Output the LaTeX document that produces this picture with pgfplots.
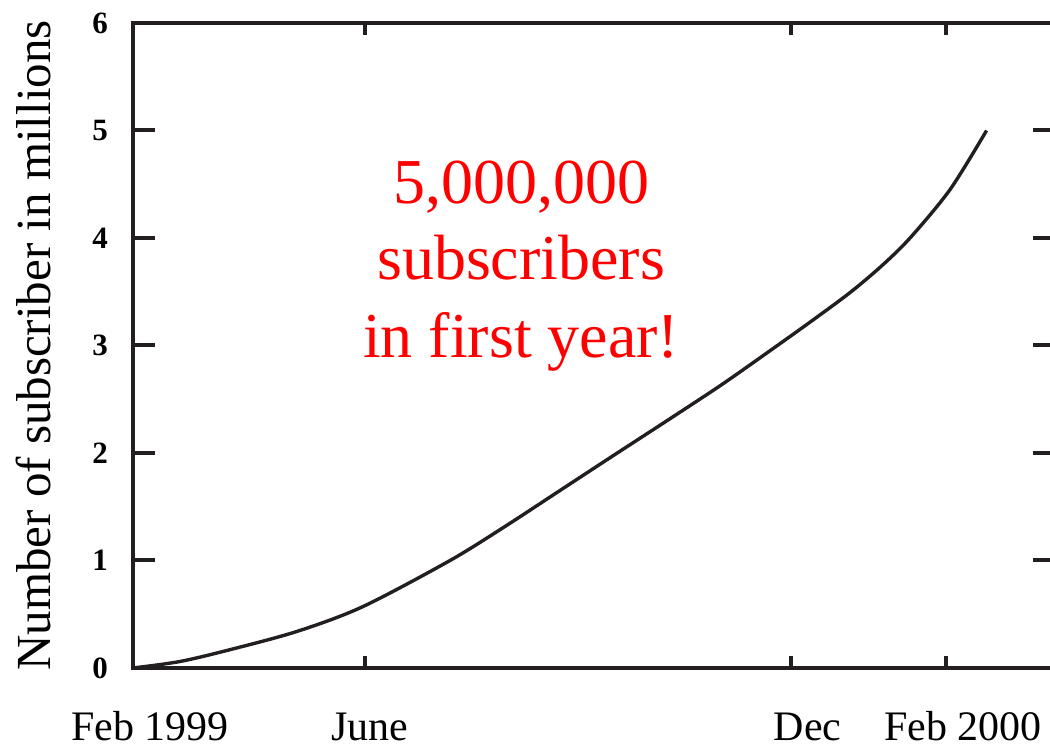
\documentclass[border=0pt]{standalone}
\usepackage{pgfplots}
\pgfplotsset{compat=1.18}
\usepackage{fontspec}
\setmainfont{Liberation Serif}
\definecolor{ink}{RGB}{35,31,32}

\begin{document}
\begin{tikzpicture}
  \begin{axis}[
      at={(0,0)}, anchor=south west,
      scale only axis,
      width=461pt, height=322.5pt,
      xmin=0, xmax=13.61,
      ymin=0, ymax=6,
      /pgf/number format/assume math mode=true,
      axis line style={ink, line width=2pt},
      tick style={ink, line width=2pt},
      tick align=inside,
      xtick={0,3.42,9.71,12},
      xticklabels={Feb 1999,\hspace*{-12pt}June,Dec,Feb 2000},
      ytick={0,1,2,3,4,5,6},
      xtick style={/pgfplots/major tick length=6pt},
      ytick style={/pgfplots/major tick length=11pt},
      xticklabel style={font=\fontsize{21}{24}\selectfont, anchor=base,
        yshift=-36.5pt, xshift=8.5pt},
      yticklabel style={font=\fontsize{15.5}{18}\selectfont\bfseries, xshift=-9pt},
      ylabel={Number of subscriber in millions},
      ylabel style={font=\fontsize{24.5}{28}\selectfont,
        at={(axis description cs:-0.089,0.5)}, anchor=base},
      clip=false,
    ]
    \addplot[ink, line width=1.7pt, smooth, tension=0.5] coordinates {
      (0,0) (0.69,0.06) (1.43,0.17) (2.42,0.34) (3.39,0.57) (4.68,1.00)
      (5.50,1.32) (6.30,1.65) (7.10,1.98) (7.93,2.32) (8.70,2.64)
      (9.40,2.95) (10.00,3.22) (10.58,3.49) (11.05,3.74) (11.47,4.00)
      (12.06,4.45) (12.60,5.00)
    };
    \node[red, anchor=base, font=\fontsize{32}{36}\selectfont] at (axis cs:5.73,4.32) {5,000,000};
    \node[red, anchor=base, font=\fontsize{32}{36}\selectfont] at (axis cs:5.73,3.61) {subscribers};
    \node[red, anchor=base, font=\fontsize{32}{36}\selectfont] at (axis cs:5.73,2.89) {in first year!};
  \end{axis}
  \pgfresetboundingbox
  \useasboundingbox (-66.5pt,-39.5pt) rectangle (458.5pt,334pt);
\end{tikzpicture}
\end{document}
